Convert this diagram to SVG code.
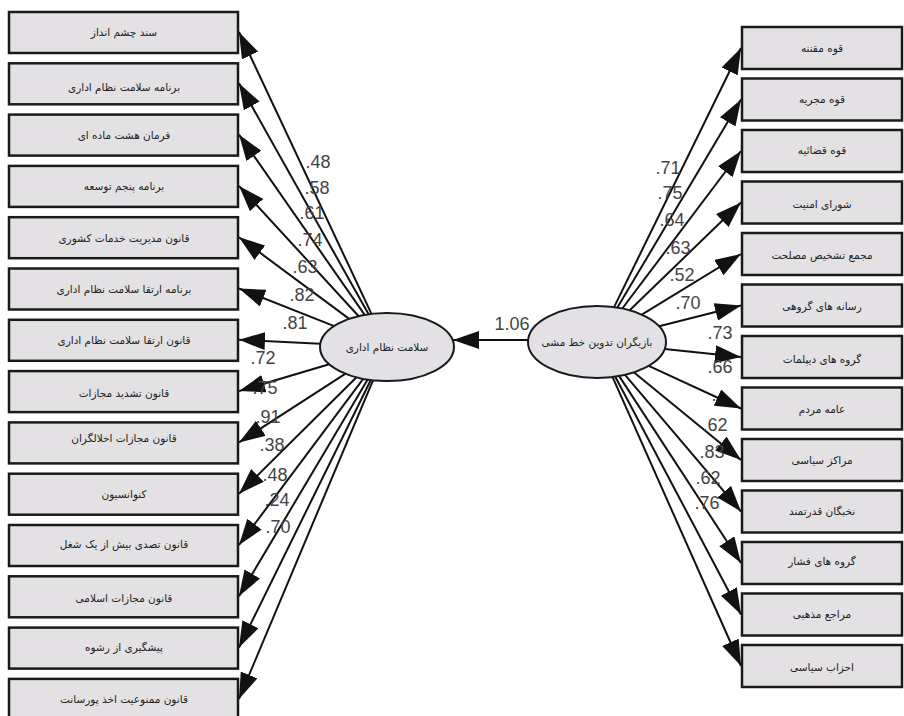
<svg xmlns="http://www.w3.org/2000/svg" width="904" height="716" viewBox="0 0 904 716">
<style>
.box{fill:#e3e1e4;stroke:#1a1a1a;stroke-width:2.5}
.ell{fill:#e3e1e5;stroke:#1a1a1a;stroke-width:2}
.t{font-family:"DejaVu Sans",sans-serif;font-size:10.5px;fill:#222;text-anchor:middle}
.n{font-family:"Liberation Sans",Arial,sans-serif;font-size:18px;fill:#444;text-anchor:middle}
.c line{stroke:#111;stroke-width:2;marker-end:url(#ah)}
</style>
<defs>
<marker id="ah" markerUnits="userSpaceOnUse" markerWidth="26" markerHeight="18" refX="26" refY="9" orient="auto">
<path d="M0,0 L26,9 L0,18 z" fill="#111"/>
</marker>
</defs>
<rect width="904" height="716" fill="#ffffff"/>

<g id="connectors" class="c">
<line x1="371.5" y1="313.9" x2="239" y2="32"/>
<line x1="368.6" y1="314.3" x2="239" y2="83.3"/>
<line x1="364.7" y1="314.9" x2="239" y2="134.6"/>
<line x1="358.7" y1="316.2" x2="239" y2="185.9"/>
<line x1="349.2" y1="318.9" x2="239" y2="237.2"/>
<line x1="334.2" y1="326.1" x2="239" y2="288.5"/>
<line x1="320.3" y1="343.8" x2="239" y2="339.8"/>
<line x1="329.2" y1="364.2" x2="239" y2="391.1"/>
<line x1="345.6" y1="373.7" x2="239" y2="442.4"/>
<line x1="356.5" y1="377.3" x2="239" y2="493.7"/>
<line x1="363.2" y1="378.8" x2="239" y2="545"/>
<line x1="367.7" y1="379.6" x2="239" y2="596.3"/>
<line x1="370.8" y1="380" x2="239" y2="647.6"/>
<line x1="373" y1="380.3" x2="239" y2="698.9"/>

<line x1="614.1" y1="307.1" x2="741" y2="48"/>
<line x1="617.4" y1="307.6" x2="741" y2="99.5"/>
<line x1="622.3" y1="308.5" x2="741" y2="151"/>
<line x1="629.7" y1="310.3" x2="741" y2="202.5"/>
<line x1="641.8" y1="314.6" x2="741" y2="254"/>
<line x1="659.1" y1="326.3" x2="741" y2="305.5"/>
<line x1="664.7" y1="349.1" x2="741" y2="357"/>
<line x1="648.7" y1="365.9" x2="741" y2="408.5"/>
<line x1="634.1" y1="372.4" x2="741" y2="460"/>
<line x1="625" y1="374.9" x2="741" y2="511.5"/>
<line x1="619.2" y1="376.1" x2="741" y2="563"/>
<line x1="615.3" y1="376.7" x2="741" y2="614.5"/>
<line x1="612.6" y1="377.1" x2="741" y2="666"/>

<line x1="528" y1="340" x2="453" y2="340"/>
</g>

<g id="loadings">
<text class="n" x="318" y="168">.48</text>
<text class="n" x="317" y="194">.58</text>
<text class="n" x="312" y="219">.61</text>
<text class="n" x="310" y="246">.74</text>
<text class="n" x="305" y="273">.63</text>
<text class="n" x="302" y="301">.82</text>
<text class="n" x="295" y="329">.81</text>
<text class="n" x="263" y="364">.72</text>
<text class="n" x="265" y="394">.75</text>
<text class="n" x="268" y="423">.91</text>
<text class="n" x="272" y="451">.38</text>
<text class="n" x="275" y="481">.48</text>
<text class="n" x="277" y="506">.24</text>
<text class="n" x="278" y="533">.70</text>

<text class="n" x="668" y="174">.71</text>
<text class="n" x="670" y="199">.75</text>
<text class="n" x="672" y="226">.64</text>
<text class="n" x="678" y="254">.63</text>
<text class="n" x="682" y="281">.52</text>
<text class="n" x="688" y="309">.70</text>
<text class="n" x="720" y="339">.73</text>
<text class="n" x="720" y="373">.66</text>
<text class="n" x="714" y="401">.</text>
<text class="n" x="715" y="431">.62</text>
<text class="n" x="712" y="458">.83</text>
<text class="n" x="708" y="484">.62</text>
<text class="n" x="707" y="509">.76</text>

<text class="n" x="512" y="330">1.06</text>
</g>

<g id="l1"><rect class="box" x="9" y="12" width="229" height="41"/><text class="t" x="124" y="36">سند چشم انداز</text></g>
<g id="l2"><rect class="box" x="9" y="63.3" width="229" height="41"/><text class="t" x="124" y="91">برنامه سلامت نظام اداری</text></g>
<g id="l3"><rect class="box" x="9" y="114.6" width="229" height="41"/><text class="t" x="124" y="139">فرمان هشت ماده ای</text></g>
<g id="l4"><rect class="box" x="9" y="165.9" width="229" height="41"/><text class="t" x="124" y="190">برنامه پنجم توسعه</text></g>
<g id="l5"><rect class="box" x="9" y="217.2" width="229" height="41"/><text class="t" x="124" y="242">قانون مدیریت خدمات کشوری</text></g>
<g id="l6"><rect class="box" x="9" y="268.5" width="229" height="41"/><text class="t" x="124" y="293">برنامه ارتقا سلامت نظام اداری</text></g>
<g id="l7"><rect class="box" x="9" y="319.8" width="229" height="41"/><text class="t" x="124" y="344">قانون ارتقا سلامت نظام اداری</text></g>
<g id="l8"><rect class="box" x="9" y="371.1" width="229" height="41"/><text class="t" x="124" y="397">قانون تشدید مجازات</text></g>
<g id="l9"><rect class="box" x="9" y="422.4" width="229" height="41"/><text class="t" x="124" y="442">قانون مجازات اخلالگران</text></g>
<g id="l10"><rect class="box" x="9" y="473.7" width="229" height="41"/><text class="t" x="124" y="498">کنوانسیون</text></g>
<g id="l11"><rect class="box" x="9" y="525" width="229" height="41"/><text class="t" x="124" y="548">قانون تصدی بیش از یک شغل</text></g>
<g id="l12"><rect class="box" x="9" y="576.3" width="229" height="41"/><text class="t" x="124" y="602">قانون مجازات اسلامی</text></g>
<g id="l13"><rect class="box" x="9" y="627.6" width="229" height="41"/><text class="t" x="124" y="651">پیشگیری از رشوه</text></g>
<g id="l14"><rect class="box" x="9" y="678.9" width="229" height="41"/><text class="t" x="124" y="703">قانون ممنوعیت اخذ پورسانت</text></g>

<g id="r1"><rect class="box" x="742" y="27" width="160" height="42"/><text class="t" x="822" y="52">قوه مقننه</text></g>
<g id="r2"><rect class="box" x="742" y="78.5" width="160" height="42"/><text class="t" x="822" y="103">قوه مجریه</text></g>
<g id="r3"><rect class="box" x="742" y="130" width="160" height="42"/><text class="t" x="822" y="154">قوه قضائیه</text></g>
<g id="r4"><rect class="box" x="742" y="181.5" width="160" height="42"/><text class="t" x="822" y="208">شورای امنیت</text></g>
<g id="r5"><rect class="box" x="742" y="233" width="160" height="42"/><text class="t" x="822" y="259">مجمع تشخیص مصلحت</text></g>
<g id="r6"><rect class="box" x="742" y="284.5" width="160" height="42"/><text class="t" x="822" y="310">رسانه های گروهی</text></g>
<g id="r7"><rect class="box" x="742" y="336" width="160" height="42"/><text class="t" x="822" y="363">گروه های دیپلمات</text></g>
<g id="r8"><rect class="box" x="742" y="387.5" width="160" height="42"/><text class="t" x="822" y="413">عامه مردم</text></g>
<g id="r9"><rect class="box" x="742" y="439" width="160" height="42"/><text class="t" x="822" y="464">مراکز سیاسی</text></g>
<g id="r10"><rect class="box" x="742" y="490.5" width="160" height="42"/><text class="t" x="822" y="515">نخبگان قدرتمند</text></g>
<g id="r11"><rect class="box" x="742" y="542" width="160" height="42"/><text class="t" x="822" y="565">گروه های فشار</text></g>
<g id="r12"><rect class="box" x="742" y="593.5" width="160" height="42"/><text class="t" x="822" y="618">مراجع مذهبی</text></g>
<g id="r13"><rect class="box" x="742" y="645" width="160" height="42"/><text class="t" x="822" y="671">احزاب سیاسی</text></g>

<g id="e1"><ellipse class="ell" cx="387" cy="347" rx="67" ry="34"/><text class="t" x="387" y="351">سلامت نظام اداری</text></g>
<g id="e2"><ellipse class="ell" cx="597" cy="342" rx="69" ry="36"/><text class="t" x="597" y="346">بازیگران تدوین خط مشی</text></g>
</svg>
